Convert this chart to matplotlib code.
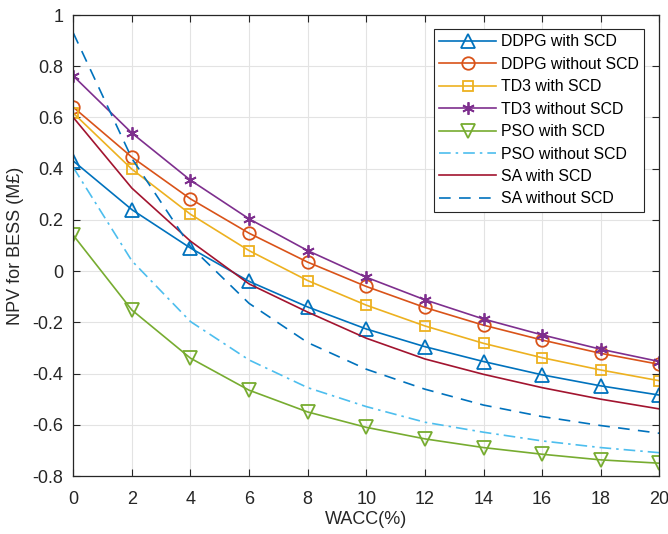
import matplotlib
matplotlib.use("Agg")
import matplotlib.pyplot as plt

plt.rcParams['font.family'] = ['Liberation Sans', 'DejaVu Sans']

wacc = [0, 2, 4, 6, 8, 10, 12, 14, 16, 18, 20]

ddpg_scd = [0.43, 0.24, 0.09, -0.04, -0.14, -0.226, -0.295, -0.353, -0.405, -0.448, -0.484]
ddpg_noscd = [0.64, 0.445, 0.282, 0.148, 0.035, -0.06, -0.142, -0.211, -0.269, -0.321, -0.364]
td3_scd = [0.617, 0.398, 0.222, 0.08, -0.037, -0.133, -0.214, -0.282, -0.338, -0.386, -0.428]
td3_noscd = [0.762, 0.539, 0.355, 0.204, 0.08, -0.024, -0.112, -0.187, -0.249, -0.305, -0.353]
pso_scd = [0.14, -0.152, -0.34, -0.465, -0.55, -0.61, -0.655, -0.689, -0.715, -0.737, -0.75]
pso_noscd = [0.405, 0.04, -0.197, -0.347, -0.455, -0.529, -0.59, -0.629, -0.663, -0.689, -0.709]
sa_scd = [0.6, 0.324, 0.117, -0.05, -0.16, -0.262, -0.343, -0.403, -0.455, -0.5, -0.538]
sa_noscd = [0.93, 0.44, 0.096, -0.126, -0.279, -0.383, -0.461, -0.523, -0.568, -0.603, -0.633]

labels = ['DDPG with SCD', 'DDPG without SCD', 'TD3 with SCD', 'TD3 without SCD',
          'PSO with SCD', 'PSO without SCD', 'SA with SCD', 'SA without SCD']

fig = plt.figure(figsize=(6.68, 5.34), dpi=100)
ax = fig.add_axes([0.1097, 0.1086, 0.8773, 0.8633])

lw = 1.2
mew = 1.3
ax.plot(wacc, ddpg_scd, color='#0072BD', lw=lw, marker='^', ms=10, mfc='none', mew=mew, label=labels[0])
ax.plot(wacc, ddpg_noscd, color='#D95319', lw=lw, marker='o', ms=9, mfc='none', mew=mew, label=labels[1])
ax.plot(wacc, td3_scd, color='#EDB120', lw=lw, marker='s', ms=7, mfc='none', mew=mew, label=labels[2])
ax.plot(wacc, td3_noscd, color='#7E2F8E', lw=lw, marker=(6, 2, 0), ms=9, mew=mew, label=labels[3])
ax.plot(wacc, pso_scd, color='#77AC30', lw=lw, marker='v', ms=10, mfc='none', mew=mew, label=labels[4])
ax.plot(wacc, pso_noscd, color='#4DBEEE', lw=lw, ls=(0, (7, 3, 1.5, 3)), label=labels[5])
ax.plot(wacc, sa_scd, color='#A2142F', lw=lw, label=labels[6])
ax.plot(wacc, sa_noscd, color='#0072BD', lw=lw, ls=(0, (7, 5)), label=labels[7])

ax.set_xlim(0, 20)
ax.set_ylim(-0.8, 1.0)
ax.set_xticks(wacc)
ax.set_yticks([-0.8, -0.6, -0.4, -0.2, 0, 0.2, 0.4, 0.6, 0.8, 1])
ax.set_yticklabels(['-0.8', '-0.6', '-0.4', '-0.2', '0', '0.2', '0.4', '0.6', '0.8', '1'])

ax.grid(True, color='#e3e3e3', lw=0.8)
ax.set_axisbelow(True)
ax.tick_params(direction='in', top=True, right=True, length=5, width=0.8,
               colors='#262626', labelsize=13)
ax.tick_params(axis='x', pad=11)
ax.tick_params(axis='y', pad=7)
for s in ax.spines.values():
    s.set_color('#262626')
    s.set_linewidth(0.9)

ax.set_xlabel('WACC(%)', fontsize=13, color='#262626', labelpad=2)
ax.set_ylabel('NPV for BESS (M£)', fontsize=13, color='#262626', labelpad=6)

leg = ax.legend(loc='upper right', bbox_to_anchor=(0.974, 0.969), borderaxespad=0,
                fontsize=11.4, handlelength=3.6, handletextpad=0.3, labelspacing=0.47,
                borderpad=0.32, fancybox=False, framealpha=1, edgecolor='#262626',
                numpoints=1)
leg.get_frame().set_linewidth(0.8)

fig.savefig('out.png', dpi=100)
